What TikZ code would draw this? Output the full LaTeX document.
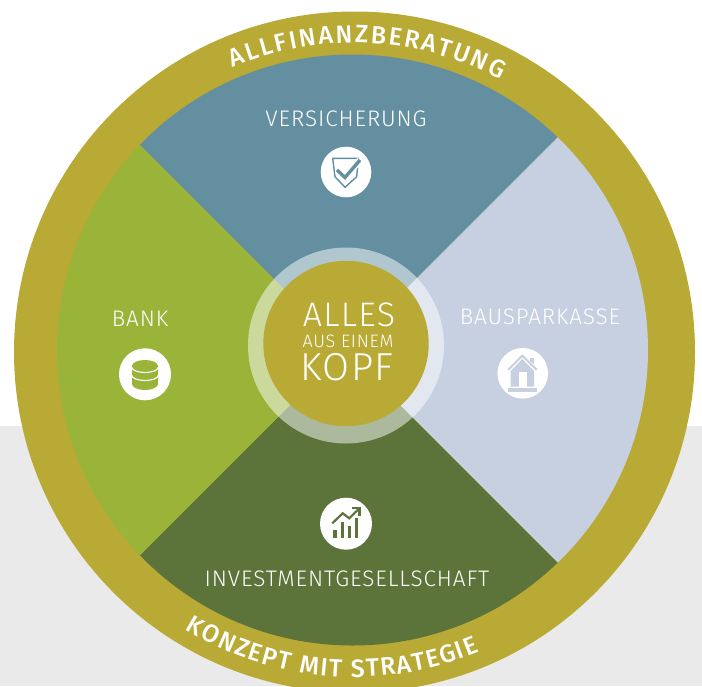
\documentclass[tikz,border=0pt]{standalone}
\usepackage{fontspec}
\usetikzlibrary{decorations.text}
\setmainfont{Fira Sans Light}
\newfontfamily\spacedfont[LetterSpace=4]{Fira Sans Light}
\newfontfamily\ringfont{Fira Sans Medium}
\definecolor{olive}{HTML}{B9A935}
\definecolor{teal}{HTML}{648FA1}
\definecolor{leaf}{HTML}{9AB43A}
\definecolor{mist}{HTML}{C7D0E0}
\definecolor{forest}{HTML}{5C7339}
\definecolor{paper}{HTML}{EAEAEA}
\tikzset{
  seclabel/.style={text=white,font=\spacedfont\fontsize{22.5}{23}\selectfont,inner sep=0pt,anchor=center},
  hub/.style={text=white,inner sep=0pt,anchor=center},
  iconbg/.style={fill=white,draw=none},
  ringtext/.style 2 args={decorate,decoration={text effects along path,text={#1},text align=center,
    text effects/.cd,text along path,
    character widths={font=\ringfont\fontsize{25}{25}\selectfont,inner xsep=#2},
    characters={text=white,font=\ringfont\fontsize{25}{25}\selectfont}}},
}
\begin{document}
\begin{tikzpicture}[x=1pt,y=-1pt]
\useasboundingbox (0,0) rectangle (702,686);
\clip (0,0) rectangle (702,686);
\fill[paper] (0,426) rectangle (702,686);
\fill[olive] (354.5,352) circle[radius=340.5];
\begin{scope}
  \clip (352.5,350) circle[radius=295.5];
  \fill[teal] (345,350) -- (-100,-95) -- (790,-95) -- cycle;
  \fill[mist] (345,350) -- (790,-95) -- (790,795) -- cycle;
  \fill[forest] (345,350) -- (790,795) -- (-100,795) -- cycle;
  \fill[leaf] (345,350) -- (-100,795) -- (-100,-95) -- cycle;
\end{scope}
\fill[white,fill opacity=0.5] (346,345.5) circle[radius=98];
\fill[olive] (346,343.5) circle[radius=82.7];

% labels
\node[seclabel] (versicherung) at (346,118.5) {VERSICHERUNG};
\node[seclabel] (bank) at (140,318.5) {BANK};
\node[seclabel] (bauspar) at (540,316.5) {BAUSPARKASSE};
\node[seclabel] (invest) at (347,578.5) {INVESTMENTGESELLSCHAFT};
\node[hub,font=\spacedfont\fontsize{34}{34}\selectfont] (alles) at (349,314.5) {ALLES};
\node[hub,font=\spacedfont\fontsize{18}{18}\selectfont] (aus) at (348,341) {AUS EINEM};
\node[hub,font=\spacedfont\fontsize{39}{39}\selectfont] (kopf) at (347,367) {KOPF};

% ring texts
\path[ringtext={ALLFINANZBERATUNG}{1.1pt}]
  (354.5,352) ++(222.5:309) arc[start angle=222.5,end angle=322.5,radius=309];
\path[ringtext={KONZEPT MIT STRATEGIE}{0.75pt}]
  (354.5,352) ++(144.4:325) arc[start angle=144.4,end angle=44.4,radius=325];

% icon: shield
\fill[iconbg] (346,172) circle[radius=25.3];
\draw[teal,line width=1.4pt,line join=round] (332.7,158.3) -- (358.3,158.3) -- (356.7,176.7) -- (345,187.3) -- (335,176.7) -- cycle;
\draw[white,line width=6.5pt] (337,170) -- (345,177.5) -- (360,160);
\draw[teal,line width=3.4pt,line join=miter] (337,170) -- (345,177.5) -- (360,160);

% icon: coins
\fill[iconbg] (145,374.3) circle[radius=26];
\fill[leaf] (132,366) -- (132,384) arc[start angle=180,end angle=0,x radius=13,y radius=6] -- (158,366) -- cycle;
\fill[leaf] (145,366) ellipse[x radius=13,y radius=6];
\draw[white,line width=1.1pt] (132,367.5) arc[start angle=180,end angle=0,x radius=13,y radius=5];
\draw[white,line width=1.1pt] (132,375.5) arc[start angle=180,end angle=0,x radius=13,y radius=5];

% icon: house
\fill[iconbg] (522.7,373.3) circle[radius=25.3];
\fill[mist] (530,358) rectangle (534,366);
\fill[white] (529,361.5) -- (522.3,355.7) -- (540,369) -- (535,372) -- cycle;
\draw[mist,line width=2pt] (508.3,369.8) -- (522.3,355.7) -- (536.7,369.8);
\fill[mist] (510.7,371) -- (522.3,359) -- (534,371) -- (534,386.7) -- (510.7,386.7) -- cycle;
\fill[white] (519,372.3) rectangle (526.7,388);
\fill[mist] (508,388.3) rectangle (537,391.7);

% icon: chart
\fill[iconbg] (346,523.7) circle[radius=26];
\fill[forest] (333.3,530) rectangle (336.7,537.7);
\fill[forest] (340.7,522.3) rectangle (344,537.7);
\fill[forest] (347.7,525.7) rectangle (351,537.7);
\fill[forest] (355,518.3) rectangle (357.5,537.7);
\draw[forest,line width=2.2pt] (332.3,523.3) -- (342.7,513.3) -- (349.3,518.3) -- (359.3,508.3);
\draw[forest,line width=2.2pt] (351.7,508) -- (359.5,508) -- (359.5,515.7);
\end{tikzpicture}
\end{document}
